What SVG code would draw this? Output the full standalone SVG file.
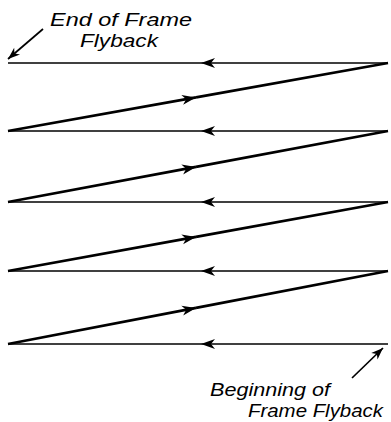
<svg xmlns="http://www.w3.org/2000/svg" width="391" height="422" viewBox="0 0 391 422">
<style>
.h{stroke:#000;stroke-width:1.7;fill:none}
.d{stroke:#000;stroke-width:2.6;fill:none}
.p{stroke:#000;stroke-width:1.7;fill:none}
.t{font-family:"Liberation Sans",Arial,sans-serif;font-style:italic;font-size:18px;fill:#000}
</style>
<defs>
<marker id="ah" markerUnits="userSpaceOnUse" viewBox="-15 -6 16 12" refX="0" refY="0" markerWidth="16" markerHeight="12" orient="auto">
<path d="M0,0 L-14,-5 L-10,0 L-14,5 Z" fill="#000"/>
</marker>
<marker id="ps" markerUnits="userSpaceOnUse" viewBox="-13 -6 14 12" refX="0" refY="0" markerWidth="14" markerHeight="12" orient="auto">
<path d="M0,0 L-12,-4.5 L-8.5,0 L-12,4.5 Z" fill="#000"/>
</marker>
</defs>
<rect width="391" height="422" fill="#fff"/>
<g id="connectors">
<path class="h" d="M388,63 L201,63" marker-end="url(#ah)"/><path class="h" d="M201,63 L8,63"/>
<path class="h" d="M388,131 L201,131" marker-end="url(#ah)"/><path class="h" d="M201,131 L8,131"/>
<path class="h" d="M388,202 L201,202" marker-end="url(#ah)"/><path class="h" d="M201,202 L8,202"/>
<path class="h" d="M388,271 L201,271" marker-end="url(#ah)"/><path class="h" d="M201,271 L8,271"/>
<path class="h" d="M388,344 L201,344" marker-end="url(#ah)"/><path class="h" d="M201,344 L8,344"/>
<path class="d" d="M8,131 L196,97.4" marker-end="url(#ah)"/><path class="d" d="M196,97.4 L388,63"/>
<path class="d" d="M8,202 L196,166.9" marker-end="url(#ah)"/><path class="d" d="M196,166.9 L388,131"/>
<path class="d" d="M8,271 L196,236.9" marker-end="url(#ah)"/><path class="d" d="M196,236.9 L388,202"/>
<path class="d" d="M8,344 L196,307.9" marker-end="url(#ah)"/><path class="d" d="M196,307.9 L388,271"/>
<path class="p" d="M43,29 L8,59" marker-end="url(#ps)"/>
<path class="p" d="M352,378 L383,348" marker-end="url(#ps)"/>
</g>
<g id="label-end">
<text class="t" x="50" y="26" textLength="142" lengthAdjust="spacingAndGlyphs">End of Frame</text>
<text class="t" x="80" y="47" textLength="78" lengthAdjust="spacingAndGlyphs">Flyback</text>
</g>
<g id="label-begin">
<text class="t" x="210" y="396" textLength="120" lengthAdjust="spacingAndGlyphs">Beginning of</text>
<text class="t" x="248" y="417" textLength="135" lengthAdjust="spacingAndGlyphs">Frame Flyback</text>
</g>
</svg>
